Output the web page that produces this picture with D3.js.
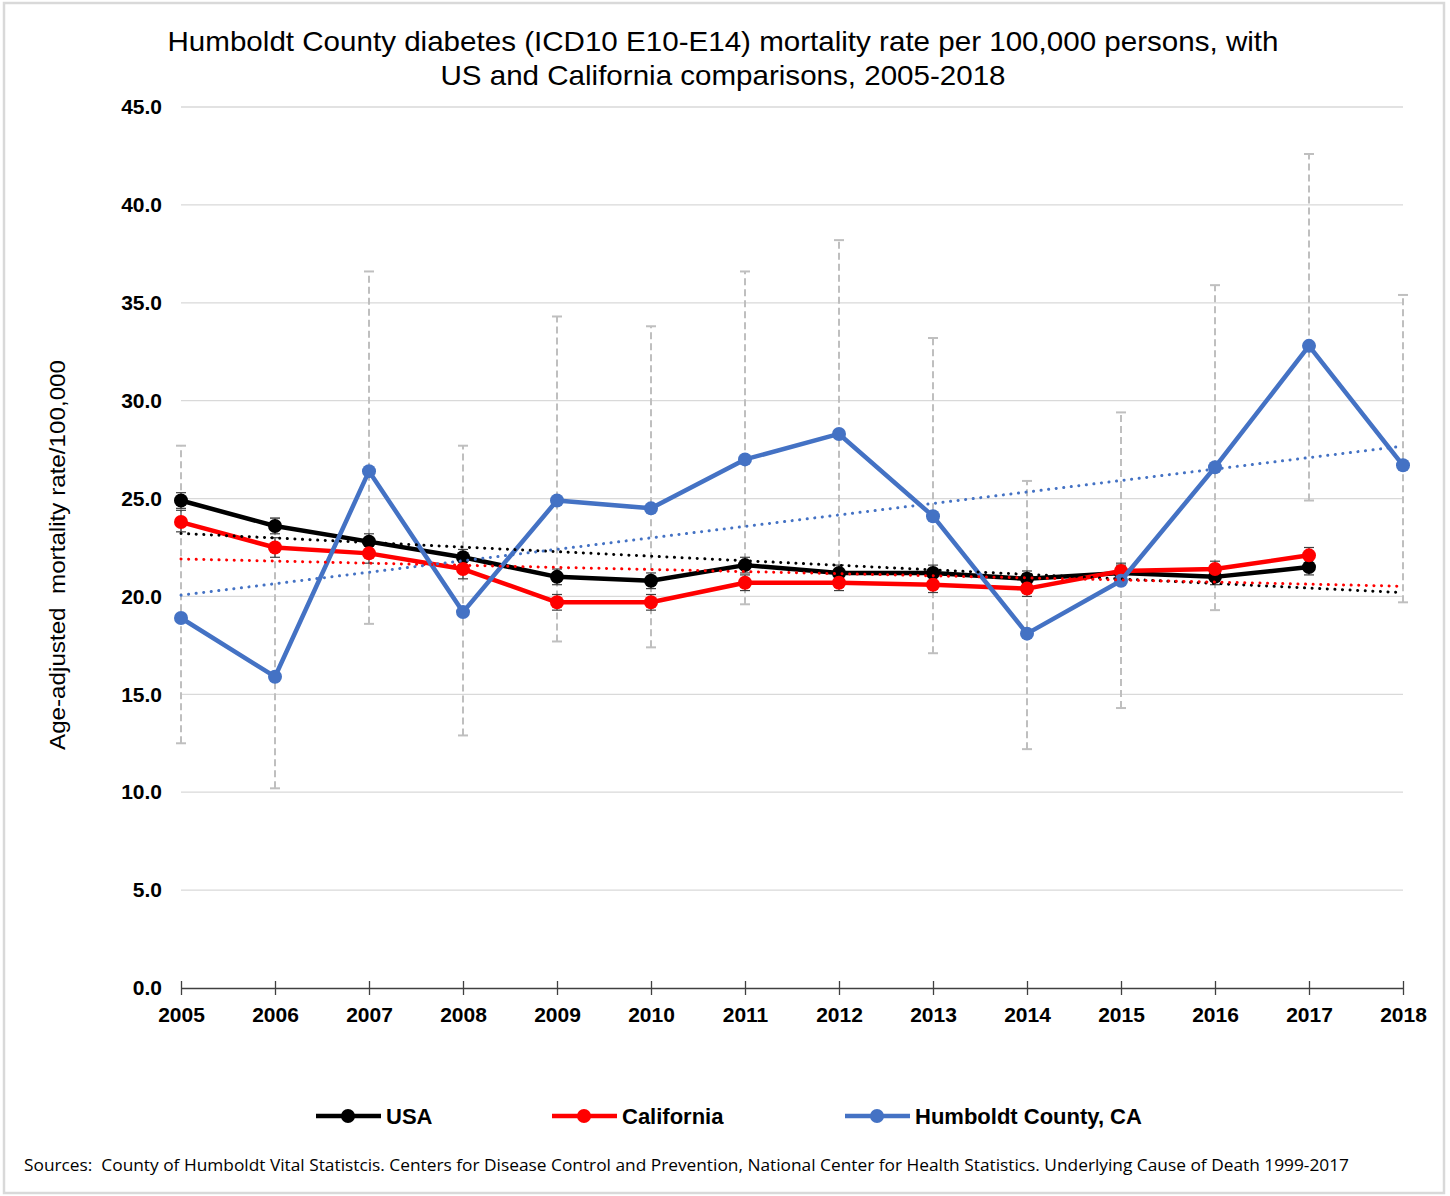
<!DOCTYPE html>
<html>
<head>
<meta charset="utf-8">
<script src="https://cdn.jsdelivr.net/npm/d3@7/dist/d3.min.js"></script>
<style>
  html, body { margin: 0; padding: 0; background: #fff; }
  svg { display: block; }
</style>
</head>
<body>
<svg id="chart" width="1450" height="1196"></svg>
<script>
// Years on the category axis
const years = [2005, 2006, 2007, 2008, 2009, 2010, 2011, 2012, 2013, 2014, 2015, 2016, 2017, 2018];

// Age-adjusted diabetes mortality per 100,000 (null = not available)
const usaRates = [24.9, 23.6, 22.8, 22.0, 21.0, 20.8, 21.6, 21.2, 21.2, 20.9, 21.2, 21.0, 21.5, null];
const caRates  = [23.8, 22.5, 22.2, 21.4, 19.7, 19.7, 20.7, 20.7, 20.6, 20.4, 21.3, 21.4, 22.1, null];
const humRates = [18.9, 15.9, 26.4, 19.2, 24.9, 24.5, 27.0, 28.3, 24.1, 18.1, 20.8, 26.6, 32.8, 26.7];

// 95% confidence limits
const usaLow  = [24.5, 23.2, 22.4, 21.6, 20.6, 20.4, 21.2, 20.8, 20.8, 20.5, 20.8, 20.6, 21.1, null];
const usaHigh = [25.3, 24.0, 23.2, 22.4, 21.4, 21.2, 22.0, 21.6, 21.6, 21.3, 21.6, 21.4, 21.9, null];
const caLow   = [23.3, 22.0, 21.7, 20.9, 19.3, 19.3, 20.3, 20.3, 20.2, 20.0, 20.9, 21.0, 21.7, null];
const caHigh  = [24.4, 23.0, 22.7, 21.9, 20.1, 20.1, 21.1, 21.1, 21.0, 20.8, 21.7, 21.8, 22.5, null];
const humLow  = [12.5, 10.2, 18.6, 12.9, 17.7, 17.4, 19.6, 20.9, 17.1, 12.2, 14.3, 19.3, 24.9, 19.7];
const humHigh = [27.7, 24.0, 36.6, 27.7, 34.3, 33.8, 36.6, 38.2, 33.2, 25.9, 29.4, 35.9, 42.6, 35.4];

const yTicks = [0, 5, 10, 15, 20, 25, 30, 35, 40, 45];

const seriesNames = ["USA", "California", "Humboldt County, CA"];
const seriesColors = ["#000000", "#ff0000", "#4472c4"];

const titleLines = [
  "Humboldt County diabetes (ICD10 E10-E14) mortality rate per 100,000 persons, with",
  "US and California comparisons, 2005-2018"
];
const yTitle = "Age-adjusted  mortality rate/100,000";
const sourceText = "Sources:  County of Humboldt Vital Statistcis. Centers for Disease Control and Prevention, National Center for Health Statistics. Underlying Cause of Death 1999-2017";

const svg = d3.select("#chart");
const FONT = "'Liberation Sans', Arial, sans-serif";

// outer frame
svg.append("rect")
  .attr("x", 4).attr("y", 3).attr("width", 1440).attr("height", 1190)
  .attr("fill", "#fff").attr("stroke", "#d9d9d9").attr("stroke-width", 2.5);

const plot = { left: 181, right: 1403, top: 107, bottom: 988 };

const x = d3.scalePoint().domain(years).range([plot.left, plot.right]);
const y = d3.scaleLinear().domain([0, 45]).range([plot.bottom, plot.top]);

// title
const titleWidths = [1111, 565];
svg.append("g").selectAll("text").data(titleLines).join("text")
  .attr("x", 723).attr("y", (d, i) => 51 + i * 34)
  .attr("text-anchor", "middle")
  .attr("font-family", FONT).attr("font-size", 28).attr("fill", "#000")
  .attr("textLength", (d, i) => titleWidths[i]).attr("lengthAdjust", "spacingAndGlyphs")
  .text(d => d);

// horizontal gridlines
svg.append("g").selectAll("line").data(yTicks.filter(t => t > 0)).join("line")
  .attr("x1", plot.left).attr("x2", plot.right)
  .attr("y1", d => y(d)).attr("y2", d => y(d))
  .attr("stroke", "#d9d9d9").attr("stroke-width", 1.3);

// y axis labels
const yAxis = d3.axisLeft(y).tickValues(yTicks).tickFormat(d3.format(".1f")).tickSize(0).tickPadding(19);
const gy = svg.append("g").attr("transform", `translate(${plot.left},0)`).call(yAxis);
gy.select(".domain").remove();
gy.selectAll("text")
  .attr("font-family", FONT).attr("font-size", 21).attr("font-weight", "bold").attr("fill", "#000");

// x axis with crossing tick marks
const xAxis = d3.axisBottom(x).tickSizeInner(7).tickSizeOuter(0).tickPadding(10);
const gx = svg.append("g").attr("transform", `translate(0,${plot.bottom})`).call(xAxis);
gx.select(".domain").attr("stroke", "#404040").attr("stroke-width", 1.3);
gx.selectAll(".tick line").attr("y1", -7).attr("y2", 7).attr("stroke", "#404040").attr("stroke-width", 1.3);
gx.selectAll("text")
  .attr("font-family", FONT).attr("font-size", 21).attr("font-weight", "bold").attr("fill", "#000")
  .attr("y", 17).attr("dy", "0.8em");

// y axis title
svg.append("text")
  .attr("transform", "translate(65,555) rotate(-90)")
  .attr("text-anchor", "middle")
  .attr("font-family", FONT).attr("font-size", 22).attr("fill", "#000")
  .attr("textLength", 390).attr("lengthAdjust", "spacingAndGlyphs")
  .style("white-space", "pre")
  .text(yTitle);

// error bars
function errorBars(low, high, opts) {
  const rows = years.map((yr, i) => ({ yr, lo: low[i], hi: high[i] })).filter(d => d.lo != null);
  const g = svg.append("g");
  g.selectAll("line.v").data(rows).join("line").attr("class", "v")
    .attr("x1", d => x(d.yr)).attr("x2", d => x(d.yr))
    .attr("y1", d => y(d.lo)).attr("y2", d => y(d.hi))
    .attr("stroke", opts.color).attr("stroke-width", opts.width)
    .attr("stroke-dasharray", opts.dash || null);
  ["lo", "hi"].forEach(k => {
    g.selectAll("line." + k).data(rows).join("line").attr("class", k)
      .attr("x1", d => x(d.yr) - 5).attr("x2", d => x(d.yr) + 5)
      .attr("y1", d => y(d[k])).attr("y2", d => y(d[k]))
      .attr("stroke", opts.color).attr("stroke-width", opts.width);
  });
}
errorBars(humLow, humHigh, { color: "#bfbfbf", width: 2, dash: "7,4" });
errorBars(usaLow, usaHigh, { color: "#404040", width: 1.2 });
errorBars(caLow, caHigh, { color: "#404040", width: 1.2 });

const allSeries = [usaRates, caRates, humRates];

// data lines and markers
const line = d3.line()
  .defined(d => d.v != null)
  .x(d => x(d.yr)).y(d => y(d.v));

allSeries.forEach((vals, s) => {
  const pts = years.map((yr, i) => ({ yr, v: vals[i] }));
  svg.append("path").datum(pts)
    .attr("d", line).attr("fill", "none")
    .attr("stroke", seriesColors[s]).attr("stroke-width", 4.5)
    .attr("stroke-linejoin", "round");
  svg.append("g").selectAll("circle").data(pts.filter(d => d.v != null)).join("circle")
    .attr("cx", d => x(d.yr)).attr("cy", d => y(d.v)).attr("r", 7)
    .attr("fill", seriesColors[s]);
});

// linear trend lines (least squares over available points, drawn across the full axis)
allSeries.forEach((vals, s) => {
  const pts = vals.map((v, i) => ({ i, v })).filter(d => d.v != null);
  const mx = d3.mean(pts, d => d.i), my = d3.mean(pts, d => d.v);
  const slope = d3.sum(pts, d => (d.i - mx) * (d.v - my)) / d3.sum(pts, d => (d.i - mx) ** 2);
  const icpt = my - slope * mx;
  const i0 = 0, i1 = years.length - 1;
  svg.append("line")
    .attr("x1", x(years[i0])).attr("x2", x(years[i1]))
    .attr("y1", y(icpt + slope * i0)).attr("y2", y(icpt + slope * i1))
    .attr("stroke", seriesColors[s]).attr("stroke-width", 3)
    .attr("stroke-linecap", "round").attr("stroke-dasharray", "0.1,7.5");
});

// legend
const legendX = [316, 552, 845];
const lg = svg.append("g");
seriesNames.forEach((name, s) => {
  const g = lg.append("g").attr("transform", `translate(${legendX[s]},1116)`);
  g.append("line").attr("x1", 0).attr("x2", 65).attr("y1", 0).attr("y2", 0)
    .attr("stroke", seriesColors[s]).attr("stroke-width", 4.5);
  g.append("circle").attr("cx", 32).attr("cy", 0).attr("r", 7).attr("fill", seriesColors[s]);
  g.append("text").attr("x", 70).attr("y", 8)
    .attr("font-family", FONT).attr("font-size", 22).attr("font-weight", "bold").attr("fill", "#000")
    .text(name);
});

// source note
svg.append("text")
  .attr("x", 24).attr("y", 1171)
  .attr("font-family", "'Open Sans', 'Noto Sans', sans-serif").attr("font-size", 16.5).attr("fill", "#000")
  .attr("textLength", 1325).attr("lengthAdjust", "spacingAndGlyphs")
  .style("white-space", "pre")
  .text(sourceText);
</script>
</body>
</html>
